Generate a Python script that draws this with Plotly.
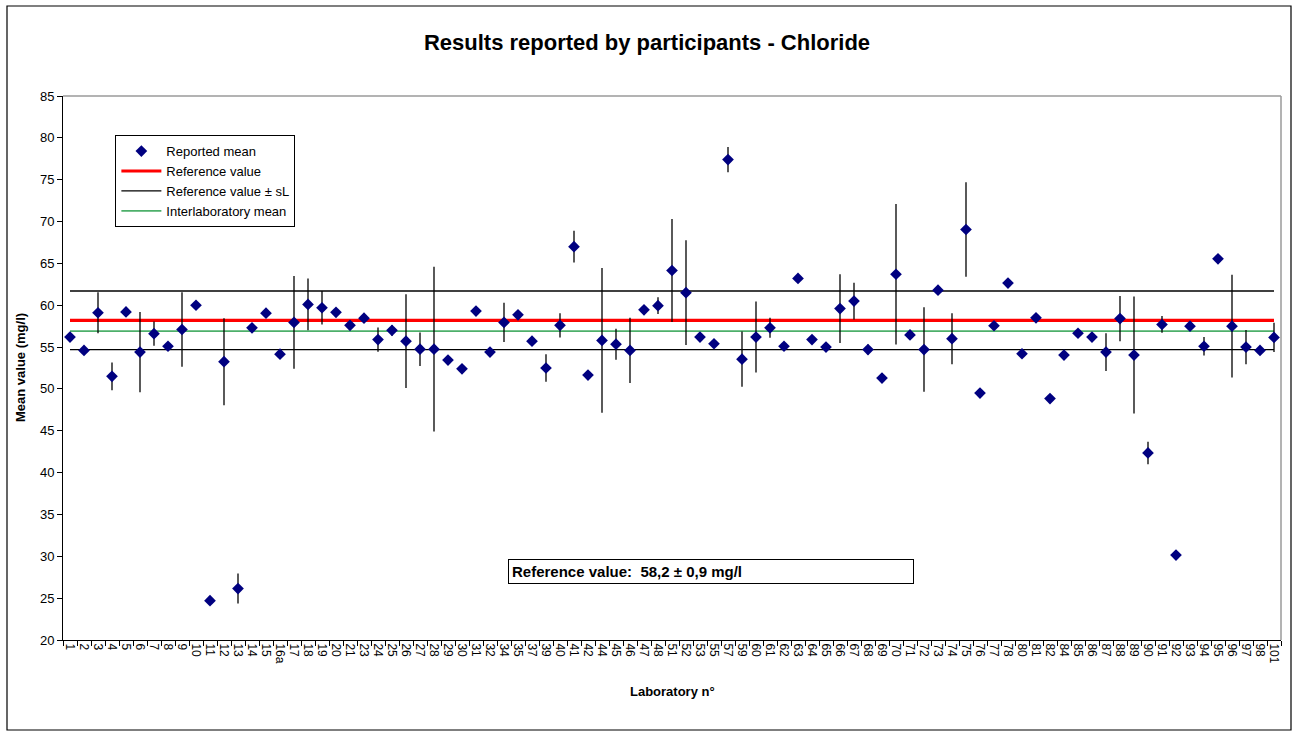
import plotly.graph_objects as go

labs = ["1","2","3","4","5","6","7","8","9","10","11","12","13","14","15","16a","17","18","19","20","21",
        "23","24","25","26","27","28","29","30","31","32","34","35","37","39","40","41","42","44","45","46","47","48",
        "51","52","53","55","57","59","60","61","62","63","64","65","66","67","68","69","70","71","72","73","74",
        "75","76","77","78","80","81","82","84","85","86","87","88","89","90","91","92","93","94","95","96","97","98","101"]

means = [56.2, 54.6, 59.1, 51.5, 59.2, 54.4, 56.6, 55.1, 57.1, 60.0, 24.7, 53.25, 26.15, 57.3, 59.05, 54.15, 57.95, 60.1, 59.7, 59.15, 57.6,
         58.45, 55.9, 57.0, 55.7, 54.75, 54.75, 53.45, 52.4, 59.3, 54.4, 57.95, 58.85, 55.7, 52.5, 57.6, 67.0, 51.65, 55.8, 55.35, 54.6, 59.45, 59.95,
         64.15, 61.5, 56.2, 55.4, 77.4, 53.55, 56.2, 57.3, 55.1, 63.2, 55.9, 55.0, 59.6, 60.5, 54.7, 51.3, 63.7, 56.45, 54.7, 61.8, 56.0,
         69.05, 49.5, 57.55, 62.65, 54.2, 58.5, 48.85, 54.05, 56.65, 56.2, 54.4, 58.4, 54.05, 42.35, 57.7, 30.15, 57.5, 55.1, 65.55, 57.5, 55.0, 54.6, 56.15]

sds = [0, 0, 2.45, 1.65, 0, 4.8, 1.45, 0, 4.45, 0, 0, 5.2, 1.8, 0, 0, 0, 5.55, 3.1, 2.0, 0, 0,
       0.5, 1.45, 0.65, 5.6, 2.0, 9.85, 0, 0, 0, 0, 2.35, 0, 0, 1.65, 1.45, 1.9, 0, 8.65, 1.85, 3.9, 0, 1.0,
       6.15, 6.25, 0, 0.4, 1.5, 3.3, 4.25, 1.2, 0, 0, 0, 0, 4.1, 2.2, 0.6, 0.6, 8.4, 0, 5.05, 0, 3.05,
       5.65, 0, 0, 0, 0, 0, 0, 0, 0, 0, 2.25, 2.7, 7.0, 1.35, 1.0, 0, 0, 1.1, 0, 6.15, 2.05, 0, 1.75]

ref_value = 58.2
ref_unc = 0.9
s_L = 3.5
interlab_mean = 56.9

FONT = "Arial, Liberation Sans, sans-serif"
ends = [labs[0], labs[-1]]

fig = go.Figure()

fig.add_trace(go.Scatter(x=ends, y=[ref_value + s_L] * 2, mode="lines",
                         line=dict(color="black", width=1.4), name="Reference value ± sL",
                         legendgroup="sl", showlegend=False, legendrank=3))
fig.add_trace(go.Scatter(x=ends, y=[ref_value - s_L] * 2, mode="lines",
                         line=dict(color="black", width=1.4), name="Reference value ± sL",
                         legendgroup="sl", showlegend=True, legendrank=3))
fig.add_trace(go.Scatter(x=ends, y=[interlab_mean] * 2, mode="lines",
                         line=dict(color="#4daf6a", width=1.8), name="Interlaboratory mean", legendrank=4))
fig.add_trace(go.Scatter(x=ends, y=[ref_value] * 2, mode="lines",
                         line=dict(color="#ff0000", width=3.2), name="Reference value", legendrank=2))
fig.add_trace(go.Scatter(x=labs, y=means, mode="markers", name="Reported mean",
                         marker=dict(symbol="diamond", size=9, color="#000080"),
                         error_y=dict(type="data", array=sds, visible=True, color="black",
                                      thickness=1.3, width=0),
                         legendrank=1))

fig.update_layout(
    width=1294, height=736,
    margin=dict(l=63, r=13, t=96, b=96),
    paper_bgcolor="white", plot_bgcolor="white",
    font=dict(family=FONT, size=13, color="black"),
    title=dict(text="<b>Results reported by participants - Chloride</b>",
               x=0.5, xref="container", xanchor="center",
               y=1 - 42 / 736, yref="container", yanchor="middle",
               font=dict(family=FONT, size=22, color="black")),
    showlegend=True,
    legend=dict(x=0.043, y=0.928, xanchor="left", yanchor="top",
                bgcolor="white", bordercolor="black", borderwidth=1,
                font=dict(family=FONT, size=13), tracegroupgap=0,
                itemwidth=40),
    xaxis=dict(type="category", categoryorder="array", categoryarray=labs,
               range=[-0.5, len(labs) - 0.5],
               showline=True, linecolor="black", linewidth=1,
               ticks="outside", ticklen=5, tickcolor="black", tickson="boundaries",
               tickangle=90, tickfont=dict(family=FONT, size=12),
               showgrid=False, zeroline=False),
    yaxis=dict(range=[20, 85], dtick=5, tick0=20,
               showline=True, linecolor="black", linewidth=1,
               ticks="outside", ticklen=5, tickcolor="black",
               tickfont=dict(family=FONT, size=13),
               showgrid=False, zeroline=False),
)

# plot area top/right border (grey)
fig.add_shape(type="line", xref="paper", yref="paper", x0=0, x1=1, y0=1, y1=1,
              line=dict(color="#9a9a9a", width=1.5))
fig.add_shape(type="line", xref="paper", yref="paper", x0=1, x1=1, y0=0, y1=1,
              line=dict(color="#9a9a9a", width=1.5))
# outer chart frame
fig.add_shape(type="rect", xref="paper", yref="paper",
              x0=(7 - 63) / 1218, x1=(1291 - 63) / 1218,
              y0=(640 - 730) / 544, y1=(640 - 6) / 544,
              line=dict(color="black", width=1.2), layer="below")

fig.add_annotation(text="<b>Mean value (mg/l)</b>", xref="paper", yref="paper",
                   x=(20 - 63) / 1218, y=0.5, textangle=-90, showarrow=False,
                   xanchor="center", yanchor="middle", font=dict(family=FONT, size=13))
fig.add_annotation(text="<b>Laboratory n°</b>", xref="paper", yref="paper",
                   x=0.5, y=(640 - 691) / 544, showarrow=False,
                   xanchor="center", yanchor="middle", font=dict(family=FONT, size=13))
fig.add_annotation(text="<b>Reference value:  58,2 ± 0,9 mg/l</b>", xref="paper", yref="paper",
                   x=(710.5 - 63) / 1218, y=(640 - 571) / 544, showarrow=False,
                   xanchor="center", yanchor="middle", align="left", width=398,
                   bgcolor="white", bordercolor="black", borderwidth=1, borderpad=3,
                   font=dict(family=FONT, size=15))

fig.write_html("out.html")
